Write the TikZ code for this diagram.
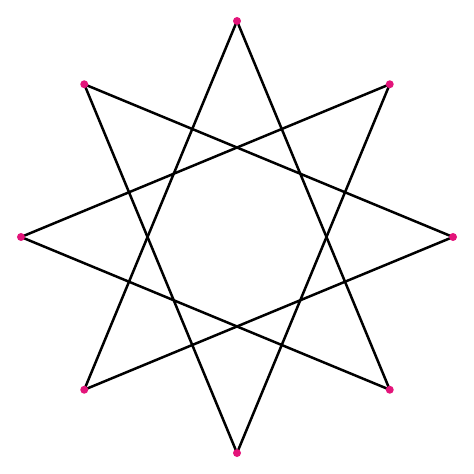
\documentclass[tikz,border=0pt]{standalone}
\tikzset{%
    edg/.style={line width = 0.025cm, line join=round},
    vtx/.style={circle, fill=dotpink, inner sep=0pt, minimum size=0.08cm},
}
\definecolor{dotpink}{HTML}{E3147A}
\begin{document}
\begin{tikzpicture}
    \useasboundingbox (-2.37,-2.37) rectangle (2.37,2.37);
    \foreach \i in {0,...,7}
        \coordinate (p\i) at (90-45*\i:2.16);
    \foreach \i in {0,...,7}{
        \pgfmathtruncatemacro{\j}{mod(\i+3,8)}
        \draw [edg] (p\i) -- (p\j);
    }
    \foreach \i in {0,...,7}
        \node [vtx] (v\i) at (p\i) {};
\end{tikzpicture}
\end{document}
